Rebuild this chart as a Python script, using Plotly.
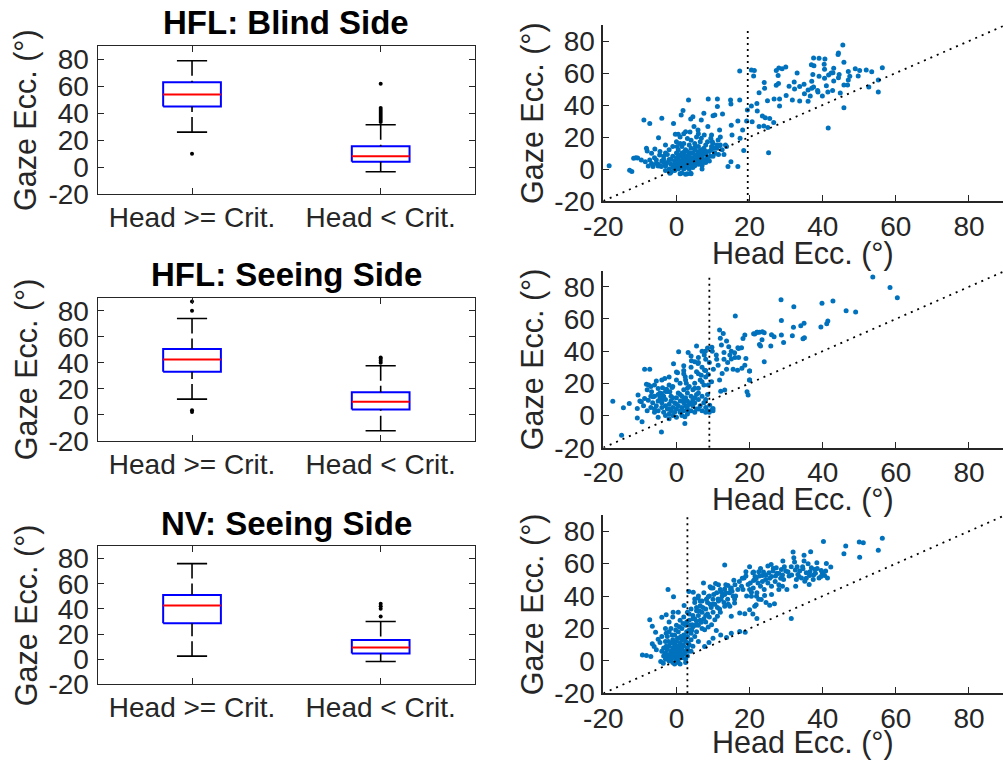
import plotly.graph_objects as go

W, H = 1003, 761
FONT = "Liberation Sans, Arial, Helvetica, sans-serif"
INK = "#262626"
DOT_BLUE = "#0072BD"

TITLES = ["HFL: Blind Side", "HFL: Seeing Side", "NV: Seeing Side"]
BOX_LABELS = ["Head >= Crit.", "Head < Crit."]
Y_TICKS = [-20, 0, 20, 40, 60, 80]
X_TICKS = [-20, 0, 20, 40, 60, 80]
TICK_TEXT = ["-20", "0", "20", "40", "60", "80"]
CRIT = [19.5, 9.0, 3.0]          # critical head eccentricity per condition
CRIT_TOP = [87, 87, 90]          # upper end of the dotted criterion line

# Box summaries, one entry per group: [Head >= Crit., Head < Crit.]
blind_q1 = [45, 4]
blind_med = [54, 8]
blind_q3 = [63, 15.5]
blind_lo = [26, -3.5]
blind_hi = [79, 31.5]
blind_out = [[10], [33.5, 35, 36.5, 38, 39.5, 41, 42.5, 44, 62]]

seeing_q1 = [33, 4]
seeing_med = [42.5, 10]
seeing_q3 = [50.5, 17.3]
seeing_lo = [12, -12.4]
seeing_hi = [74, 37.6]
seeing_out = [[2, 3.5, 80, 87], [40, 41.5, 43, 44]]

nv_q1 = [28.6, 4.5]
nv_med = [42.6, 9.3]
nv_q3 = [51, 15.3]
nv_lo = [2.4, -1.9]
nv_hi = [76, 30]
nv_out = [[], [34, 40, 42, 44]]

# Head vs gaze eccentricity per trial (deg)
blind_pts = [
    (-18.4, 2.1), (-12.8, -0.8), (-12.2, -1.5), (-11.7, 6.7), (-11.1, 7.1), (-10.6, 6.9),
    (-8.9, 30.6), (-7.3, 28.5), (-4.0, 31.7), (-4.9, 19.6), (-8.2, 12.9), (-8.0, 11.3),
    (-6.8, 9.8), (-5.9, 12.5), (-9.6, 5.6), (-8.5, 4.6), (-7.7, 1.9), (-6.8, 3.5),
    (-5.5, 5.6), (-4.6, 8.8), (-0.8, 28.5), (-0.3, 21.7), (0.5, 21.7), (1.3, 33.8),
    (1.8, 36.5), (3.3, 43.1), (3.9, 31.3), (4.5, 32.7), (4.8, 26.5), (2.5, 23.3),
    (3.7, 23.1), (5.9, 24.4), (6.8, 30.6), (7.5, 34.8), (8.7, 43.8), (10.0, 33.3),
    (10.5, 33.8), (11.2, 43.8), (11.2, 39.0), (12.6, 34.4), (8.6, 26.5), (9.6, 21.3),
    (9.4, 19.2), (11.4, 18.1), (11.8, 24.4), (13.7, 14.0), (14.1, 1.5), (14.9, 4.6),
    (14.8, 43.1), (14.9, 40.6), (15.0, 27.3), (15.2, 21.3), (16.8, 1.5), (16.8, 30.0),
    (17.3, 43.1), (17.4, 19.2), (18.4, 11.5), (18.1, 24.4), (17.3, 61.3), (19.4, 36.9),
    (19.2, 30.0), (7.6, 21.3), (6.8, 19.2), (7.4, 10.8), (8.2, 6.0), (7.1, 3.5),
    (9.6, 14.0), (10.5, 9.8), (11.1, 15.0), (11.7, 14.4), (13.4, 15.0), (2.5, -3.3),
    (3.9, -2.7), (-1.8, -2.7), (-1.9, -1.7), (-0.5, -0.6), (-2.9, 2.5), (-3.5, 4.0),
    (-4.1, 1.5), (-5.0, 1.9), (-5.5, 3.5), (-6.4, 1.5), (-7.3, 5.6),
    (-3, 2), (-2.5, 4), (-2, 0), (-2, 6), (-1.5, -2), (-1.5, 3), (-1, 1), (-1, 8),
    (-0.5, 5), (-0.5, -1), (0, 2), (0, 4), (0, 7), (0, 10), (0.5, 0), (0.5, 3),
    (0.5, 6), (0.5, 12), (1, 1), (1, 5), (1, 8), (1, -3), (1.5, 2), (1.5, 4),
    (1.5, 10), (1.5, 14), (2, 0), (2, 3), (2, 6), (2, 9), (2, 16), (2.5, 1),
    (2.5, 5), (2.5, 7), (2.5, 12), (3, 2), (3, 4), (3, 8), (3, 11), (3, -3),
    (3.5, 0), (3.5, 6), (3.5, 9), (3.5, 15), (4, 3), (4, 5), (4, 7), (4, 13),
    (4, 18), (4.5, 1), (4.5, 4), (4.5, 10), (5, 2), (5, 6), (5, 8), (5, 12),
    (5, 16), (5.5, 4), (5.5, 9), (5.5, 20), (6, 3), (6, 7), (6, 11), (6, 14),
    (6.5, 5), (6.5, 17), (7, 2), (7, 8), (7, 10), (7.5, 6), (7.5, 13), (8, 4),
    (8, 9), (8, 15), (8.5, 7), (9, 11), (9, 5), (9.5, 12), (10, 8), (10, 16),
    (10.5, 10), (11, 13), (11.5, 9), (12, 15), (12.5, 12), (-4, 5), (-3.5, 8),
    (-3, 10), (-4.5, 2), (-5, 3), (-2, 12), (-1, 14), (-3, 15), (0, 17), (1, 20),
    (2, 22), (-2, -1), (-3, -1), (1.5, -2.5), (4, -3), (7, 0),
    (-1.5, 6), (-0.5, 3), (0.5, 9), (1.2, 2.5), (1.8, 7), (2.2, 11), (2.8, 3), (3.2, 6),
    (3.8, 10), (4.2, 2), (4.8, 7), (5.2, 14), (5.8, 6), (6.2, 9), (6.8, 12), (7.2, 5),
    (8.2, 11), (9.2, 8), (10.2, 13), (-2.5, 9), (-3.5, 6), (0.2, 14), (1, 16), (3, 19),
    (6, 22), (8.5, 17), (9.8, 17), (12, 20), (13, 9), (-4.5, 11), (-6, 7),
    (20.5, 61.9), (21.3, 61.5), (21.1, 58.1), (22.6, 47.7), (24.1, 50.4), (20.5, 39.4),
    (22.0, 41.0), (22.1, 36.3), (20.7, 29.6), (23.5, 33.1), (24.3, 32.1), (25.5, 31.5),
    (22.6, 26.5), (23.9, 26.9), (25.0, 26.0), (26.6, 29.0), (25.2, 10.2), (24.9, 42.7),
    (26.7, 43.8), (28.2, 43.8), (28.2, 39.4), (27.3, 52.3), (27.9, 53.5), (27.8, 58.5),
    (27.3, 61.5), (28.0, 63.1), (28.9, 62.7), (29.9, 63.8), (30.8, 51.7), (32.2, 54.4),
    (32.3, 50.0), (33.7, 51.5), (34.9, 52.9), (31.7, 43.1), (33.7, 42.5), (36.0, 42.3),
    (36.0, 49.4), (36.6, 45.6), (37.0, 50.4), (37.0, 54.8), (37.5, 51.2), (37.3, 59.0),
    (36.9, 65.2), (37.6, 64.6), (37.5, 69.4), (39.0, 69.2), (38.6, 49.0), (38.7, 48.1),
    (39.9, 45.6), (40.6, 68.8), (40.4, 65.4), (40.5, 62.3), (40.5, 56.7), (41.4, 48.1),
    (41.5, 25.6), (41.6, 58.8), (42.3, 60.0), (42.8, 60.2), (43.0, 62.9), (42.7, 49.0),
    (44.3, 57.1), (44.5, 59.0), (44.2, 71.5), (44.3, 72.5), (45.5, 77.5), (45.8, 66.7),
    (44.8, 47.5), (45.8, 52.5), (45.8, 38.3), (46.8, 52.5), (47.4, 57.9), (47.0, 55.6),
    (48.9, 62.7), (49.7, 58.1), (50.1, 61.5), (51.9, 61.9), (52.6, 51.2), (53.4, 60.8),
    (55.2, 48.1), (55.2, 55.6), (56.3, 63.3), (24, 54), (30, 46), (35, 47), (39, 58),
    (43, 55), (47, 61), (33, 60), (41, 52),
]

seeing_pts = [
    (-17.4, 8.9), (-14.5, 4.8), (-15.0, -12.2), (-12.9, 7.5), (-10.7, 4.4), (-10.7, -1.5),
    (-10.5, 12.7), (-9.4, -3.9), (-8.7, 28.8), (-7.3, 28.8), (-8.2, 19.5), (-7.6, 18.9),
    (-4.1, -10.2), (-0.8, 32.2), (0.6, 39.6), (0.3, 26.6), (3.2, 39.2), (2.3, -5.0),
    (9.7, 42.5), (9.8, 40.0), (10.9, 37.6), (11.8, 53.1), (12.8, 51.0), (12.3, 43.8),
    (13.7, 46.3), (14.3, 42.7), (13.0, 39.2), (14.6, 37.6), (15.0, 35.1), (15.9, 39.0),
    (16.1, 61.8), (16.8, 42.1), (17.8, 42.1), (18.2, 47.9), (18.7, 50.0), (19.0, 35.5),
    (20.0, 27.6), (18.7, 31.3), (17.9, 29.3), (16.7, 28.2), (15.5, 28.8), (13.7, 28.8),
    (12.5, 26.1), (11.4, 31.3), (11.8, 22.0), (13.2, 15.8), (12.1, 15.1), (19.3, 14.7),
    (19.6, 12.7), (20.0, 22.0), (21.4, 50.6), (22.1, 51.7), (17.0, 41.7), (10.1, 28.8),
    (9.6, 21.0), (9.6, 3.3), (10.0, 4.4), (9.1, 6.4), (8.7, 18.9),
    (-9.6, 8.5), (-8.7, 10.6), (-7.7, 9.5), (-6.8, 14.7), (-6.4, 11.6), (-5.5, 21.4),
    (-5.0, 16.8), (-4.1, 13.7), (-3.2, 23.0), (-3.8, 17.2), (-2.7, 16.4), (-1.8, 14.7),
    (-1.2, 17.4), (2.0, 28.0), (2.4, 24.1), (2.7, 20.1), (4.1, 34.0), (5.5, 43.2),
    (5.0, 33.4), (5.9, 32.4), (5.5, 27.2), (6.8, 25.1), (7.7, 28.2), (8.7, 25.5),
    (7.6, 37.6), (7.9, 40.0), (2.3, -0.8), (3.2, 2.3),
    (-7, 5), (-6.5, 8), (-6, 2), (-6, 12), (-5.5, 6), (-5, 9), (-5, 3), (-4.5, 11),
    (-4.5, 14), (-4, 5), (-4, 8), (-3.5, 2), (-3.5, 12), (-3, 0), (-3, 6), (-3, 10),
    (-2.5, 4), (-2.5, 15), (-2, 1), (-2, 7), (-2, -2), (-1.5, 3), (-1.5, 9), (-1.5, 12),
    (-1, 0), (-1, 5), (-1, 18), (-0.5, 2), (-0.5, 8), (0, 4), (0, 11), (0, -1),
    (0.5, 6), (0.5, 14), (1, 2), (1, 9), (1, 20), (1.5, 0), (1.5, 5), (1.5, 12),
    (2, 3), (2, 8), (2, 16), (2.5, 6), (2.5, 11), (2.5, 22), (3, 1), (3, 4),
    (3, 9), (3, 14), (3.5, 7), (3.5, 18), (4, 3), (4, 12), (4, 24), (4.5, 6),
    (4.5, 10), (4.5, 16), (5, 2), (5, 8), (5, 20), (5.5, 13), (5.5, 4), (6, 10),
    (6, 26), (6, 17), (6.5, 6), (6.5, 22), (7, 3), (7, 12), (7, 30), (7.5, 8),
    (7.5, 19), (8, 5), (8, 2), (8, 24), (8.5, 13), (8.5, 3), (-8, 16), (-9, 6),
    (-10, 9), (-7, 18), (-8, 3), (-6, 19), (-4, 22), (-2, 24), (0, 27), (2, 31),
    (4, 37), (6, 33), (8, 35), (8.5, 42), (7, 40), (9, 2), (10, 3),
    (-6, 4), (-5, 13), (-4, 10), (-3, 15), (-2, 4), (-1, 11), (0, 7), (1, 3),
    (1, 13), (2, 10), (3, 6), (3, 17), (4, 8), (5, 11), (5, 17), (6, 4),
    (6, 14), (7, 21), (8, 10), (8, 28), (-7, 12), (-5, -1), (-2, 19), (0, 22),
    (2, 26), (4, 30), (6, 36), (9, 33), (11, 35), (13, 35), (15, 40), (14, 33),
    (16, 36), (12, 48), (17, 36),
    (21.1, 50.8), (22.0, 51.7), (22.7, 51.7), (23.5, 52.1), (24.0, 51.5), (22.7, 44.2),
    (23.0, 43.2), (23.4, 47.1), (24.0, 33.4), (25.8, 43.2), (26.0, 50.2), (26.7, 49.0),
    (28.6, 72.0), (28.7, 59.1), (28.7, 50.0), (29.3, 45.4), (31.7, 49.6), (32.0, 54.8),
    (32.1, 67.6), (34.0, 55.8), (34.9, 57.3), (34.6, 47.7), (35.0, 48.3), (39.5, 55.0),
    (39.8, 69.7), (41.1, 57.1), (41.4, 58.7), (42.8, 71.2), (46.4, 65.1), (49.0, 64.3),
    (53.7, 86.1), (58.4, 79.5), (60.4, 73.2), (20.0, 27.6), (20.0, 22.0),
]

nv_pts = [
    (-9.3, 3.7), (-8.2, 3.3), (-7.0, 2.7), (-7.3, 25.4), (-6.6, 21.3), (-5.7, 17.6),
    (-6.6, 10.5), (-6.1, 8.9), (-5.5, 6.8), (-5.0, 13.4), (-4.5, 11.4), (-4.0, 26.9),
    (-2.8, 28.5), (-2.3, 44.0), (-0.8, 39.5), (-0.9, 30.0), (0.5, 30.0), (-4.3, -0.4),
    (-3.6, -1.4), (13.2, 59.1),
    (2.1, 34.1), (3.4, 42.8), (4.6, 42.4), (5.0, 38.2), (5.9, 38.8), (7.4, 48.1),
    (8.7, 39.5), (9.2, 45.7), (10.0, 45.0), (10.7, 47.7), (11.4, 38.2), (12.3, 42.4),
    (13.2, 44.4), (14.1, 46.5), (14.8, 44.4), (15.7, 49.8), (15.9, 38.2), (16.8, 44.0),
    (17.8, 46.1), (18.5, 51.2), (19.0, 52.3), (19.6, 47.1), (20.5, 42.4), (21.1, 54.8),
    (21.4, 50.2), (21.9, 39.9), (4.3, 22.3), (5.5, 24.4), (6.8, 23.8), (7.7, 19.2),
    (8.7, 20.9), (9.6, 22.3), (10.5, 25.4), (11.2, 27.5), (11.8, 32.0), (13.2, 33.7),
    (14.6, 33.7), (15.9, 35.7), (17.3, 29.5), (18.7, 29.1), (20.0, 31.6), (21.4, 33.7),
    (15.0, 27.5), (7.7, 8.9), (8.9, 11.4), (10.0, 14.0), (10.9, 18.8), (12.1, 15.9),
    (13.7, 14.5), (15.0, 17.1), (17.3, 18.2), (18.8, 17.6),
    (-3.5, 3), (-3.5, 8), (-3, 1), (-3, 5), (-3, 12), (-2.5, 2), (-2.5, 7), (-2.5, 15),
    (-2, 0), (-2, 4), (-2, 9), (-2, 18), (-1.5, 1), (-1.5, 6), (-1.5, 11), (-1.5, 20),
    (-1, -1), (-1, 3), (-1, 8), (-1, 13), (-0.5, 2), (-0.5, 5), (-0.5, 10), (-0.5, 16),
    (0, 0), (0, 4), (0, 7), (0, 12), (0, 22), (0.5, 1), (0.5, 6), (0.5, 9),
    (0.5, 14), (0.5, 18), (1, 3), (1, 5), (1, 11), (1, 25), (1.5, 2), (1.5, 7),
    (1.5, 13), (1.5, 20), (2, 4), (2, 9), (2, 16), (2, 27), (2.5, 1), (2.5, 6),
    (2.5, 12), (2.5, 22), (3, 3), (3, 8), (3, 15), (3, 30), (3.5, 10), (3.5, 19),
    (3.5, 25), (4, 6), (4, 13), (4, 17), (4, 32), (4.5, 9), (4.5, 21), (4.5, 28),
    (5, 15), (5, 26), (5, 36), (5.5, 18), (5.5, 31), (6, 12), (6, 22), (6, 28),
    (6, 40), (6.5, 25), (6.5, 34), (7, 20), (7, 30), (7, 37), (7.5, 26), (7.5, 42),
    (8, 32), (8, 24), (8.5, 29), (8.5, 36), (9, 40), (9, 27), (9.5, 33), (10, 30),
    (10, 38), (10.5, 35), (11, 42), (11.5, 37), (12, 44), (12, 30), (12.5, 40), (13, 36),
    (13.5, 47), (14, 38), (14.5, 42), (15, 45), (15.5, 40), (16, 47), (-4, 6), (-4, 15),
    (-3, 20), (-2, 24), (-1, 27), (0.5, -1), (1, -2), (2.5, -1), (-0.5, -2),
    (-3.2, 4), (-2.8, 9), (-2.2, 12), (-1.8, 3), (-1.2, 5), (-0.8, 7), (-0.2, 9), (0.2, 3),
    (0.8, 8), (1.2, 15), (1.8, 10), (2.2, 5), (2.8, 18), (3.2, 11), (3.8, 22), (-1.2, 16),
    (-0.2, 19), (0.8, 21), (1.8, 23), (2.8, 24), (-2.8, 17), (0.3, 14), (-0.7, 11), (1.3, 9),
    (2.3, 14), (3.3, 6), (4.2, 19), (5.2, 22), (6.2, 31), (7.2, 33), (8.2, 38), (9.2, 35),
    (10.2, 41), (11.2, 33), (12.2, 38), (13.2, 41), (14.2, 35), (15.2, 43), (16.2, 40),
    (17.2, 49), (18.2, 44), (19.2, 40), (20.2, 48), (21.5, 52), (22.5, 55), (23.5, 49),
    (24.5, 53), (25.5, 51), (26.5, 57), (27.5, 54), (28.5, 51), (29.5, 58), (30.5, 55),
    (31.5, 53), (32.5, 56), (33.5, 52), (34.5, 58), (35.5, 51), (36.5, 55), (37.5, 53),
    (38.5, 57), (39.5, 52), (9.5, 45), (11.5, 47), (13.5, 42), (8, 28), (10, 35),
    (6.5, 37), (5.5, 33), (4.5, 26), (3.5, 29), (19, 55), (20, 58), (18, 51), (23, 57),
    (26, 52), (29, 53), (33, 58), (36, 60), (38, 54),
    (20.9, 54.3), (21.1, 49.6), (21.8, 50.8), (22.3, 48.1), (22.7, 52.3), (23.5, 52.7),
    (23.8, 54.8), (24.4, 50.2), (25.0, 58.5), (25.3, 54.3), (25.9, 59.5), (26.4, 55.4),
    (27.1, 52.3), (27.3, 57.4), (28.0, 53.9), (28.7, 56.4), (29.1, 61.6), (29.3, 50.2),
    (29.9, 55.4), (30.2, 44.0), (30.8, 52.3), (31.4, 58.1), (31.9, 67.1), (32.1, 63.6),
    (32.3, 61.0), (32.6, 46.1), (32.8, 50.2), (33.2, 53.3), (33.7, 55.4), (34.2, 51.2),
    (34.6, 56.8), (34.9, 65.1), (34.9, 61.6), (35.1, 49.2), (35.5, 54.3), (36.3, 47.1),
    (36.4, 52.7), (36.7, 67.4), (36.9, 57.4), (37.4, 50.2), (37.8, 56.4), (38.4, 60.5),
    (39.0, 51.2), (39.6, 55.8), (39.9, 54.3), (40.5, 52.7), (40.8, 55.4), (41.0, 60.1),
    (41.3, 51.2), (42.2, 57.9), (40.2, 73.6), (46.3, 70.9), (45.8, 66.1), (50.0, 73.3),
    (51.1, 72.9), (50.1, 64.0), (55.2, 68.2), (56.3, 75.6), (31.4, 26.2), (22.0, 26.2),
    (20.9, 28.9), (25.5, 34.3), (26.8, 35.3), (21.8, 34.7), (23.2, 37.8), (24.1, 40.3),
    (20.5, 39.9), (20.0, 44.0), (21, 45), (22, 42), (23, 46), (24, 44), (25, 48),
    (26, 46), (27, 49), (28, 47), (22.5, 38), (24.5, 36), (26, 41), (28, 44), (29, 46),
]

BOXES = [
    (blind_q1, blind_med, blind_q3, blind_lo, blind_hi, blind_out),
    (seeing_q1, seeing_med, seeing_q3, seeing_lo, seeing_hi, seeing_out),
    (nv_q1, nv_med, nv_q3, nv_lo, nv_hi, nv_out),
]
SCATTERS = [blind_pts, seeing_pts, nv_pts]

# Pixel frames of each panel: (left, right, top, bottom)
BOX_FRAMES = [(97.7, 475, 46, 194), (97.7, 475, 297.7, 440.7), (97.7, 475, 546, 684.3)]
SC_FRAMES = [(603.3, 1003, 25, 201), (603.3, 1003, 270.7, 447.7), (603.3, 1003, 515, 693.3)]
TITLE_Y = [22, 275, 523]
XLABEL_GAP = [52, 52, 49]       # distance of "Head Ecc." label below each scatter

BOX_HALF = 0.153
CAP_HALF = 0.08


def xdom(l, r):
    return [l / W, r / W]


def ydom(t, b):
    return [1 - b / H, 1 - t / H]


fig = go.Figure()
layout = dict(
    template="none",
    width=W, height=H,
    margin=dict(l=0, r=0, t=0, b=0, pad=0, autoexpand=False),
    paper_bgcolor="white", plot_bgcolor="white",
    showlegend=False,
    font=dict(family=FONT, color=INK),
)
annotations = []

tick_font = dict(family=FONT, size=28, color=INK)
axis_common = dict(
    showgrid=False, zeroline=False, showline=True, linecolor=INK, linewidth=1.4,
    ticks="inside", ticklen=6, tickwidth=1.4, tickcolor=INK, tickfont=tick_font,
    automargin=False,
)

for r in range(3):
    bi, si = 2 * r + 1, 2 * r + 2
    bx, by = f"x{bi}", f"y{bi}"
    sx, sy = f"x{si}", f"y{si}"
    l, rr, t, b = BOX_FRAMES[r]
    layout[f"xaxis{bi}"] = dict(
        axis_common, domain=xdom(l, rr), anchor=by, range=[0.5, 2.5],
        tickvals=[1, 2], ticktext=BOX_LABELS, mirror="ticks", ticklabelstandoff=-2,
    )
    layout[f"yaxis{bi}"] = dict(
        axis_common, domain=ydom(t, b), anchor=bx, range=[-20, 90],
        tickvals=Y_TICKS, ticktext=TICK_TEXT, mirror="ticks", ticklabelstandoff=2,
    )
    sl, sr, st, sb = SC_FRAMES[r]
    layout[f"xaxis{si}"] = dict(
        axis_common, domain=xdom(sl, sr), anchor=sy, range=[-20, 89.3],
        tickvals=X_TICKS, ticktext=TICK_TEXT, linewidth=1.8, ticklabelstandoff=-1,
    )
    layout[f"yaxis{si}"] = dict(
        axis_common, domain=ydom(st, sb), anchor=sx, range=[-20, 90],
        tickvals=Y_TICKS, ticktext=TICK_TEXT, linewidth=1.8, ticklabelstandoff=1,
    )

    # --- box plot panel ---
    q1, med, q3, lo, hi, outs = BOXES[r]
    for g in range(2):
        xc = g + 1
        # box outline
        fig.add_trace(go.Scatter(
            x=[xc - BOX_HALF, xc + BOX_HALF, xc + BOX_HALF, xc - BOX_HALF, xc - BOX_HALF],
            y=[q1[g], q1[g], q3[g], q3[g], q1[g]],
            mode="lines", line=dict(color="#0000FF", width=2),
            xaxis=bx, yaxis=by, hoverinfo="skip"))
        # whiskers (dashed)
        for a, c in ((hi[g], q3[g]), (lo[g], q1[g])):
            fig.add_trace(go.Scatter(
                x=[xc, xc], y=[a, c], mode="lines",
                line=dict(color="black", width=1.6, dash="15px,5px"),
                xaxis=bx, yaxis=by, hoverinfo="skip"))
        # whisker caps
        for v in (hi[g], lo[g]):
            fig.add_trace(go.Scatter(
                x=[xc - CAP_HALF, xc + CAP_HALF], y=[v, v], mode="lines",
                line=dict(color="black", width=1.6),
                xaxis=bx, yaxis=by, hoverinfo="skip"))
        # median
        fig.add_trace(go.Scatter(
            x=[xc - BOX_HALF, xc + BOX_HALF], y=[med[g], med[g]], mode="lines",
            line=dict(color="#FF0000", width=2),
            xaxis=bx, yaxis=by, hoverinfo="skip"))
        # outliers
        if outs[g]:
            fig.add_trace(go.Scatter(
                x=[xc] * len(outs[g]), y=outs[g], mode="markers",
                marker=dict(color="black", size=4),
                xaxis=bx, yaxis=by, hoverinfo="skip"))

    # --- scatter panel ---
    pts = SCATTERS[r]
    fig.add_trace(go.Scatter(
        x=[p[0] for p in pts], y=[p[1] for p in pts], mode="markers",
        marker=dict(color=DOT_BLUE, size=5, line=dict(width=0)),
        xaxis=sx, yaxis=sy, hoverinfo="skip"))
    # unity line
    fig.add_trace(go.Scatter(
        x=[-20, 90], y=[-20, 90], mode="lines",
        line=dict(color="black", width=1.8, dash="2px,5px"),
        xaxis=sx, yaxis=sy, hoverinfo="skip"))
    # criterion line
    fig.add_trace(go.Scatter(
        x=[CRIT[r], CRIT[r]], y=[-20, CRIT_TOP[r]], mode="lines",
        line=dict(color="black", width=1.8, dash="2px,4px"),
        xaxis=sx, yaxis=sy, hoverinfo="skip"))

    # panel title and axis titles
    annotations.append(dict(
        text=f"<b>{TITLES[r]}</b>", x=((l + rr) / 2) / W, y=1 - TITLE_Y[r] / H,
        xref="paper", yref="paper", xanchor="center", yanchor="middle",
        showarrow=False, font=dict(family=FONT, size=33, color="black")))
    annotations.append(dict(
        text="Gaze Ecc. (°)", x=26 / W, y=1 - ((t + b) / 2) / H,
        xref="paper", yref="paper", xanchor="center", yanchor="middle",
        textangle=-90, showarrow=False, font=dict(family=FONT, size=30.5, color=INK)))
    annotations.append(dict(
        text="Gaze Ecc. (°)", x=532 / W, y=1 - ((st + sb) / 2) / H,
        xref="paper", yref="paper", xanchor="center", yanchor="middle",
        textangle=-90, showarrow=False, font=dict(family=FONT, size=30.5, color=INK)))
    annotations.append(dict(
        text="Head Ecc. (°)", x=((sl + sr) / 2) / W, y=1 - (sb + XLABEL_GAP[r]) / H,
        xref="paper", yref="paper", xanchor="center", yanchor="middle",
        showarrow=False, font=dict(family=FONT, size=30.5, color=INK)))

layout["annotations"] = annotations
fig.update_layout(**layout)
fig.write_html("out.html")
